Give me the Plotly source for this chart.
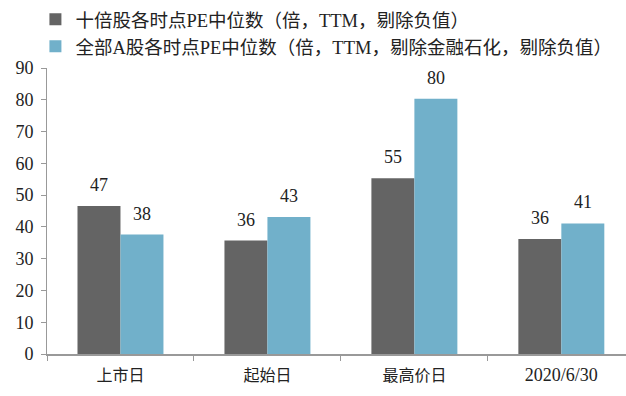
import plotly.graph_objects as go

# Categories and median PE values for the two groups
categories = ["上市日", "起始日", "最高价日", "2020/6/30"]
ten_bagger_pe = [46.6, 35.7, 55.3, 36.2]
all_a_pe = [37.6, 43.1, 80.3, 41.1]
series_names = [
    "十倍股各时点PE中位数（倍，TTM，剔除负值）",
    "全部A股各时点PE中位数（倍，TTM，剔除金融石化，剔除负值）",
]
y_ticks = [0, 10, 20, 30, 40, 50, 60, 70, 80, 90]

dark = "#646464"
blue = "#71B0CA"
serif = "Liberation Serif, serif"
mixed = "Liberation Serif, Noto Sans CJK SC, serif"

# date-style category labels are set a little larger than the CJK ones
tick_text = [c if not c[0].isdigit() else f"<span style='font-size:18px'>{c}</span>"
             for c in categories]

fig = go.Figure()
fig.add_trace(go.Bar(x=categories, y=ten_bagger_pe, name=series_names[0],
                     marker=dict(color=dark, line=dict(width=0))))
fig.add_trace(go.Bar(x=categories, y=all_a_pe, name=series_names[1],
                     marker=dict(color=blue, line=dict(width=0))))

# value labels above each bar, offset left/right to sit over the grouped bars
annotations = []
for vals, shift in ((ten_bagger_pe, -21.5), (all_a_pe, 21.5)):
    for c, v in zip(categories, vals):
        annotations.append(dict(x=c, y=v, xref="x", yref="y", text=f"{v:.0f}",
                                showarrow=False, yanchor="bottom", xshift=shift,
                                yshift=9, font=dict(family=serif, size=18, color="#222")))

fig.update_layout(
    width=626, height=396,
    margin=dict(l=47, r=0, t=68, b=42, autoexpand=False),
    paper_bgcolor="white", plot_bgcolor="white",
    barmode="group", bargap=0.415, bargroupgap=0,
    annotations=annotations,
    showlegend=True,
    legend=dict(x=-0.02, y=1.235, xanchor="left", yanchor="top", orientation="v",
                font=dict(family=mixed, size=18.5, color="#222"),
                itemwidth=30, tracegroupgap=0, bgcolor="rgba(0,0,0,0)",
                borderwidth=0, itemclick=False),
    xaxis=dict(range=[-0.5, 3.44], showline=True, linecolor="#999", linewidth=1.5,
               ticks="outside", tickson="boundaries", ticklen=5, tickcolor="#999",
               tickmode="array", tickvals=categories, ticktext=tick_text,
               ticklabelstandoff=6,
               tickangle=0, tickfont=dict(family=mixed, size=16, color="#222"),
               showgrid=False),
    yaxis=dict(range=[0, 90], tickvals=y_ticks, showline=True, linecolor="#999",
               linewidth=1, ticks="outside", ticklen=5, tickcolor="#999",
               ticklabelstandoff=4,
               tickfont=dict(family=serif, size=18, color="#222"), showgrid=False,
               zeroline=False),
)

fig.write_html("out.html")
